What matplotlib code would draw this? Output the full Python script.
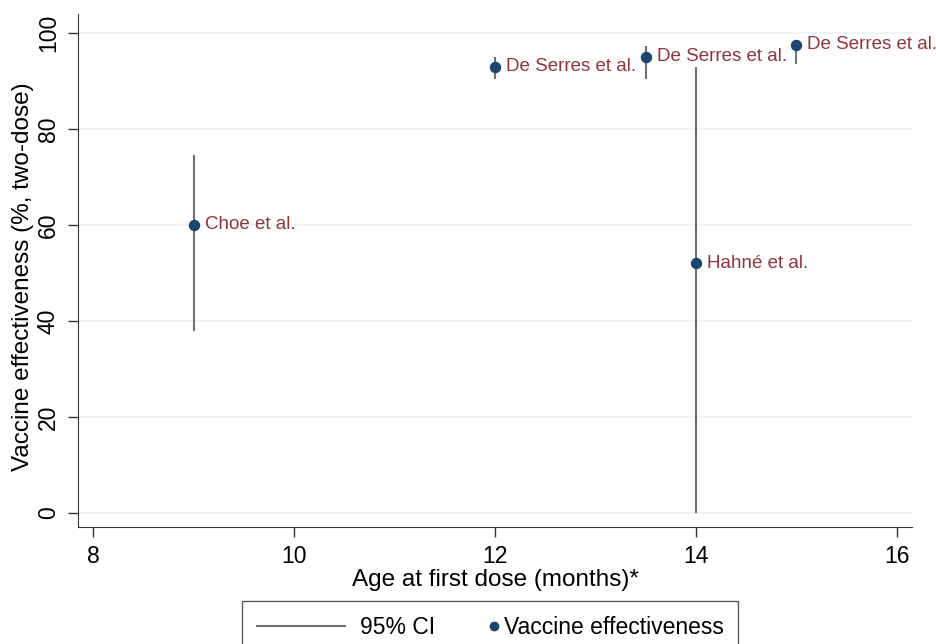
import matplotlib
matplotlib.use("Agg")
import matplotlib.pyplot as plt
from matplotlib.lines import Line2D
from matplotlib.legend_handler import HandlerLine2D

# Dados
estudos  = ["Choe et al.", "De Serres et al.", "De Serres et al.", "Hahné et al.", "De Serres et al."]
idade    = [9, 12, 13.5, 14, 15]
efetivid = [60, 93, 95, 52, 97.5]
ic_inf   = [38, 90.5, 90.3, 0, 93.5]
ic_sup   = [74.5, 95, 97.3, 93, 98.5]

COR_PONTO = "#1a476f"
COR_IC    = "#707070"
COR_TEXTO = "#90353b"
COR_GRADE = "#eaf2f3"
COR_EIXO  = "#333333"


class HandlerPontoDireita(HandlerLine2D):
    """Coloca o marcador no fim da area do handle, perto do texto."""
    def get_xdata(self, legend, xdescent, ydescent, width, height, fontsize):
        m = -xdescent + width + 0.25 * fontsize
        return [m - 0.1, m + 0.1], [m]


plt.rcParams["font.family"] = ["Liberation Sans", "DejaVu Sans"]

fig = plt.figure(figsize=(9.37, 6.44), dpi=100)
ax = fig.add_axes([0.0832, 0.1817, 0.8901, 0.797])

ax.vlines(idade, ic_inf, ic_sup, color=COR_IC, linewidth=1.5, zorder=2)
ax.scatter(idade, efetivid, s=52, color=COR_PONTO, zorder=3)

for x, y, nome in zip(idade, efetivid, estudos):
    ax.annotate(nome, (x, y), xytext=(8, 0), textcoords="offset points",
                va="center", ha="left", fontsize=13.5, color=COR_TEXTO)

ax.set_xlim(7.848, 16.152)
ax.set_ylim(-2.9, 104)
ax.set_xticks([8, 10, 12, 14, 16])
ax.set_yticks([0, 20, 40, 60, 80, 100])
ax.tick_params(axis="both", labelsize=16.5, length=7, width=1, color=COR_EIXO)
ax.tick_params(axis="x", pad=6)
ax.tick_params(axis="y", pad=6)
for lbl in ax.get_yticklabels():
    lbl.set_rotation(90)
    lbl.set_va("center")
ax.yaxis.grid(True, color=COR_GRADE, linewidth=1.2)
ax.set_axisbelow(True)

for lado in ["top", "right"]:
    ax.spines[lado].set_visible(False)
for lado in ["left", "bottom"]:
    ax.spines[lado].set_color(COR_EIXO)

ax.set_xlabel("Age at first dose (months)*", fontsize=17.5, labelpad=1)
ax.set_ylabel("Vaccine effectiveness (%, two-dose)", fontsize=17.5)
ax.yaxis.set_label_coords(-0.053, 0.487)

h_ic = Line2D([0], [0], color=COR_IC, linewidth=1.5)
h_ve = Line2D([0], [0], marker="o", linestyle="none", color=COR_PONTO, markersize=6)
leg = fig.legend([h_ic, h_ve], ["95% CI", "Vaccine effectiveness"], loc="upper center",
                 bbox_to_anchor=(0.523, 0.0668), ncol=2, fontsize=16.5, frameon=True,
                 fancybox=False, edgecolor=COR_EIXO, handlelength=3.85,
                 handletextpad=0.65, columnspacing=-1.5, borderpad=0.65,
                 borderaxespad=0,
                 handler_map={h_ve: HandlerPontoDireita(numpoints=1)})
leg.get_frame().set_linewidth(1)

fig.savefig("out.png", dpi=100)
